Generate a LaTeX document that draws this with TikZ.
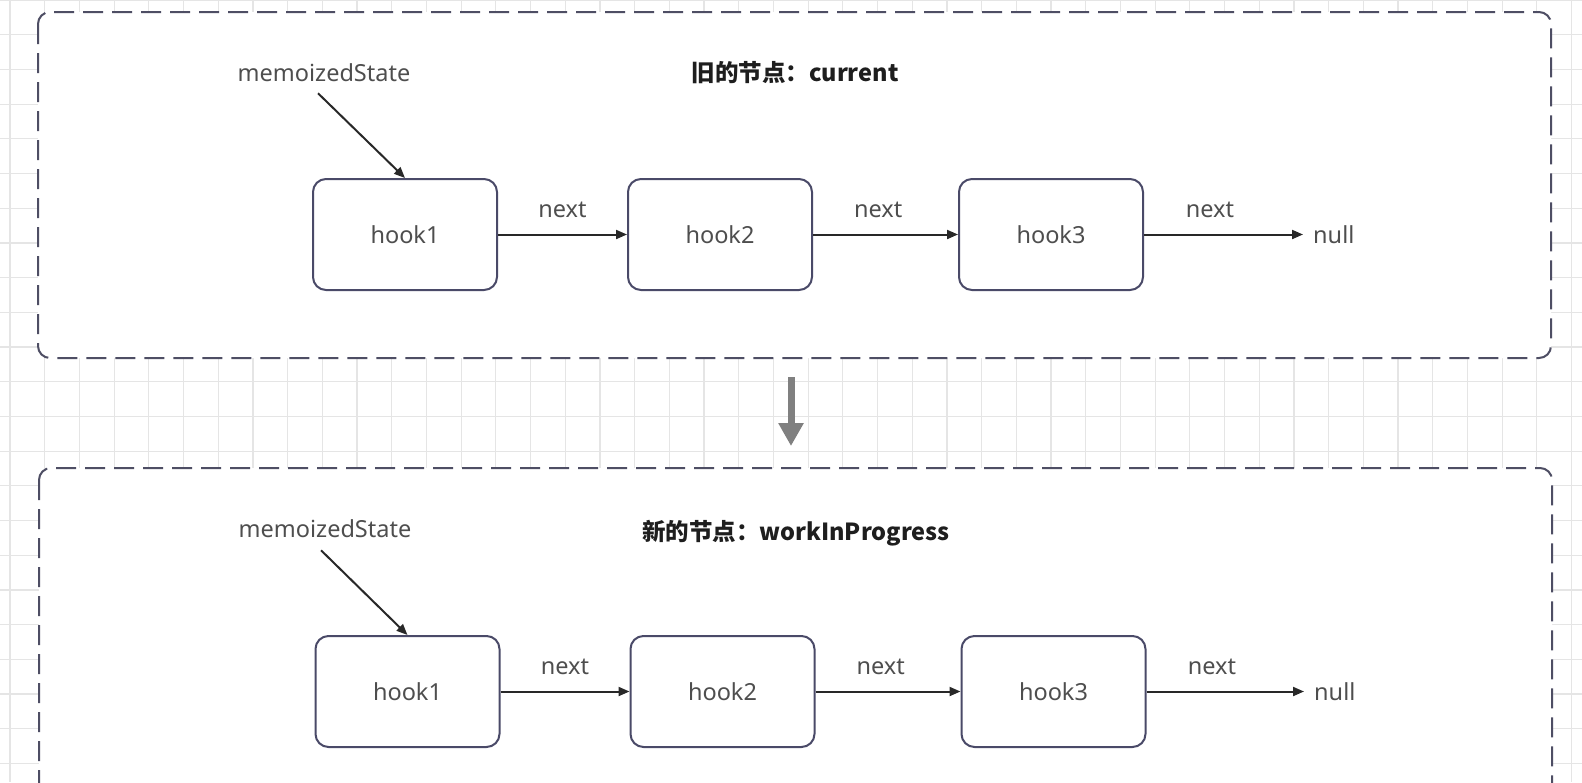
\documentclass[tikz,border=0pt]{standalone}
\usepackage{fontspec}
\setmainfont{Noto Sans}
\newfontfamily\cjk{Noto Sans CJK SC}
\usetikzlibrary{arrows.meta}
\definecolor{gridc}{RGB}{229,229,229}
\definecolor{boxc}{RGB}{74,74,104}
\definecolor{dashc}{RGB}{78,78,100}
\definecolor{linec}{RGB}{40,40,40}
\definecolor{txt}{RGB}{78,78,78}
\definecolor{ttl}{RGB}{30,30,30}
\definecolor{bigc}{RGB}{128,128,128}
\tikzset{
  gridl/.style={draw=gridc, line width=1.2pt},
  outerbox/.style={draw=dashc, line width=2pt, fill=white, rounded corners=12pt, dash pattern=on 20pt off 9pt},
  hookbox/.style={draw=boxc, line width=2pt, rounded corners=13pt, minimum width=184pt, minimum height=111pt, inner sep=0pt, fill=white, text=txt, font=\fontsize{23.5}{28}\selectfont},
  plain/.style={text=txt, inner sep=2pt, font=\fontsize{23.5}{28}\selectfont},
  lab/.style={text=txt, inner sep=0pt, yshift=25pt, font=\fontsize{23.5}{28}\selectfont},
  nulltxt/.style={text=txt, anchor=west, inner xsep=10pt, inner ysep=0pt, font=\fontsize{23.5}{28}\selectfont},
  titletxt/.style={text=ttl, inner sep=0pt, font=\fontsize{23.5}{28}\selectfont\cjk\bfseries},
  ar/.style={draw=linec, line width=2pt, -{Triangle[length=11pt,width=9pt]}},
  bigar/.style={draw=bigc, line width=7pt, -{Triangle[length=23pt,width=24pt]}}
}
\begin{document}
\begin{tikzpicture}[x=1pt,y=-1pt]
\useasboundingbox (0,0) rectangle (1582,782);
\clip (0,0) rectangle (1582,782);
\fill[white] (0,0) rectangle (1582,782);
\foreach \k in {0,...,22} \draw[gridl] (0,\k*34.7) -- (1582,\k*34.7);
\foreach \k in {0,...,45} \draw[gridl] (10+\k*34.7,0) -- (10+\k*34.7,782);

% outer dashed boxes
\draw[outerbox] (38,12) rectangle (1551,358);
\draw[outerbox] (39,468) rectangle (1552,800);

% top: current
\node[titletxt] (t1) at (795,73) {旧的节点：current};
\node[plain] (m1) at (324,73) {memoizedState};
\node[hookbox] (a1) at (405,234.5) {hook1};
\node[hookbox] (a2) at (720,234.5) {hook2};
\node[hookbox] (a3) at (1051,234.5) {hook3};
\node[nulltxt] (n1) at (1303,234.5) {null};
\draw[ar] ([xshift=-6pt,yshift=-9pt]m1.south) -- (a1.north);
\draw[ar] (a1) -- node[lab,pos=0.5] {next} (a2);
\draw[ar] (a2) -- node[lab,pos=0.45] {next} (a3);
\draw[ar] (a3) -- node[lab,pos=0.415] {next} (n1);

% transition arrow
\coordinate (g1) at (791,377);
\coordinate (g2) at (791,446);
\draw[bigar] (g1) -- (g2);

% bottom: workInProgress
\node[titletxt] (t2) at (796,533) {新的节点：workInProgress};
\node[plain] (m2) at (325,529) {memoizedState};
\node[hookbox] (b1) at (407.5,691.5) {hook1};
\node[hookbox] (b2) at (722.5,691.5) {hook2};
\node[hookbox] (b3) at (1053.5,691.5) {hook3};
\node[nulltxt] (n2) at (1304,691.5) {null};
\draw[ar] ([xshift=-4pt,yshift=-10pt]m2.south) -- (b1.north);
\draw[ar] (b1) -- node[lab,pos=0.5] {next} (b2);
\draw[ar] (b2) -- node[lab,pos=0.45] {next} (b3);
\draw[ar] (b3) -- node[lab,pos=0.415] {next} (n2);
\end{tikzpicture}
\end{document}
